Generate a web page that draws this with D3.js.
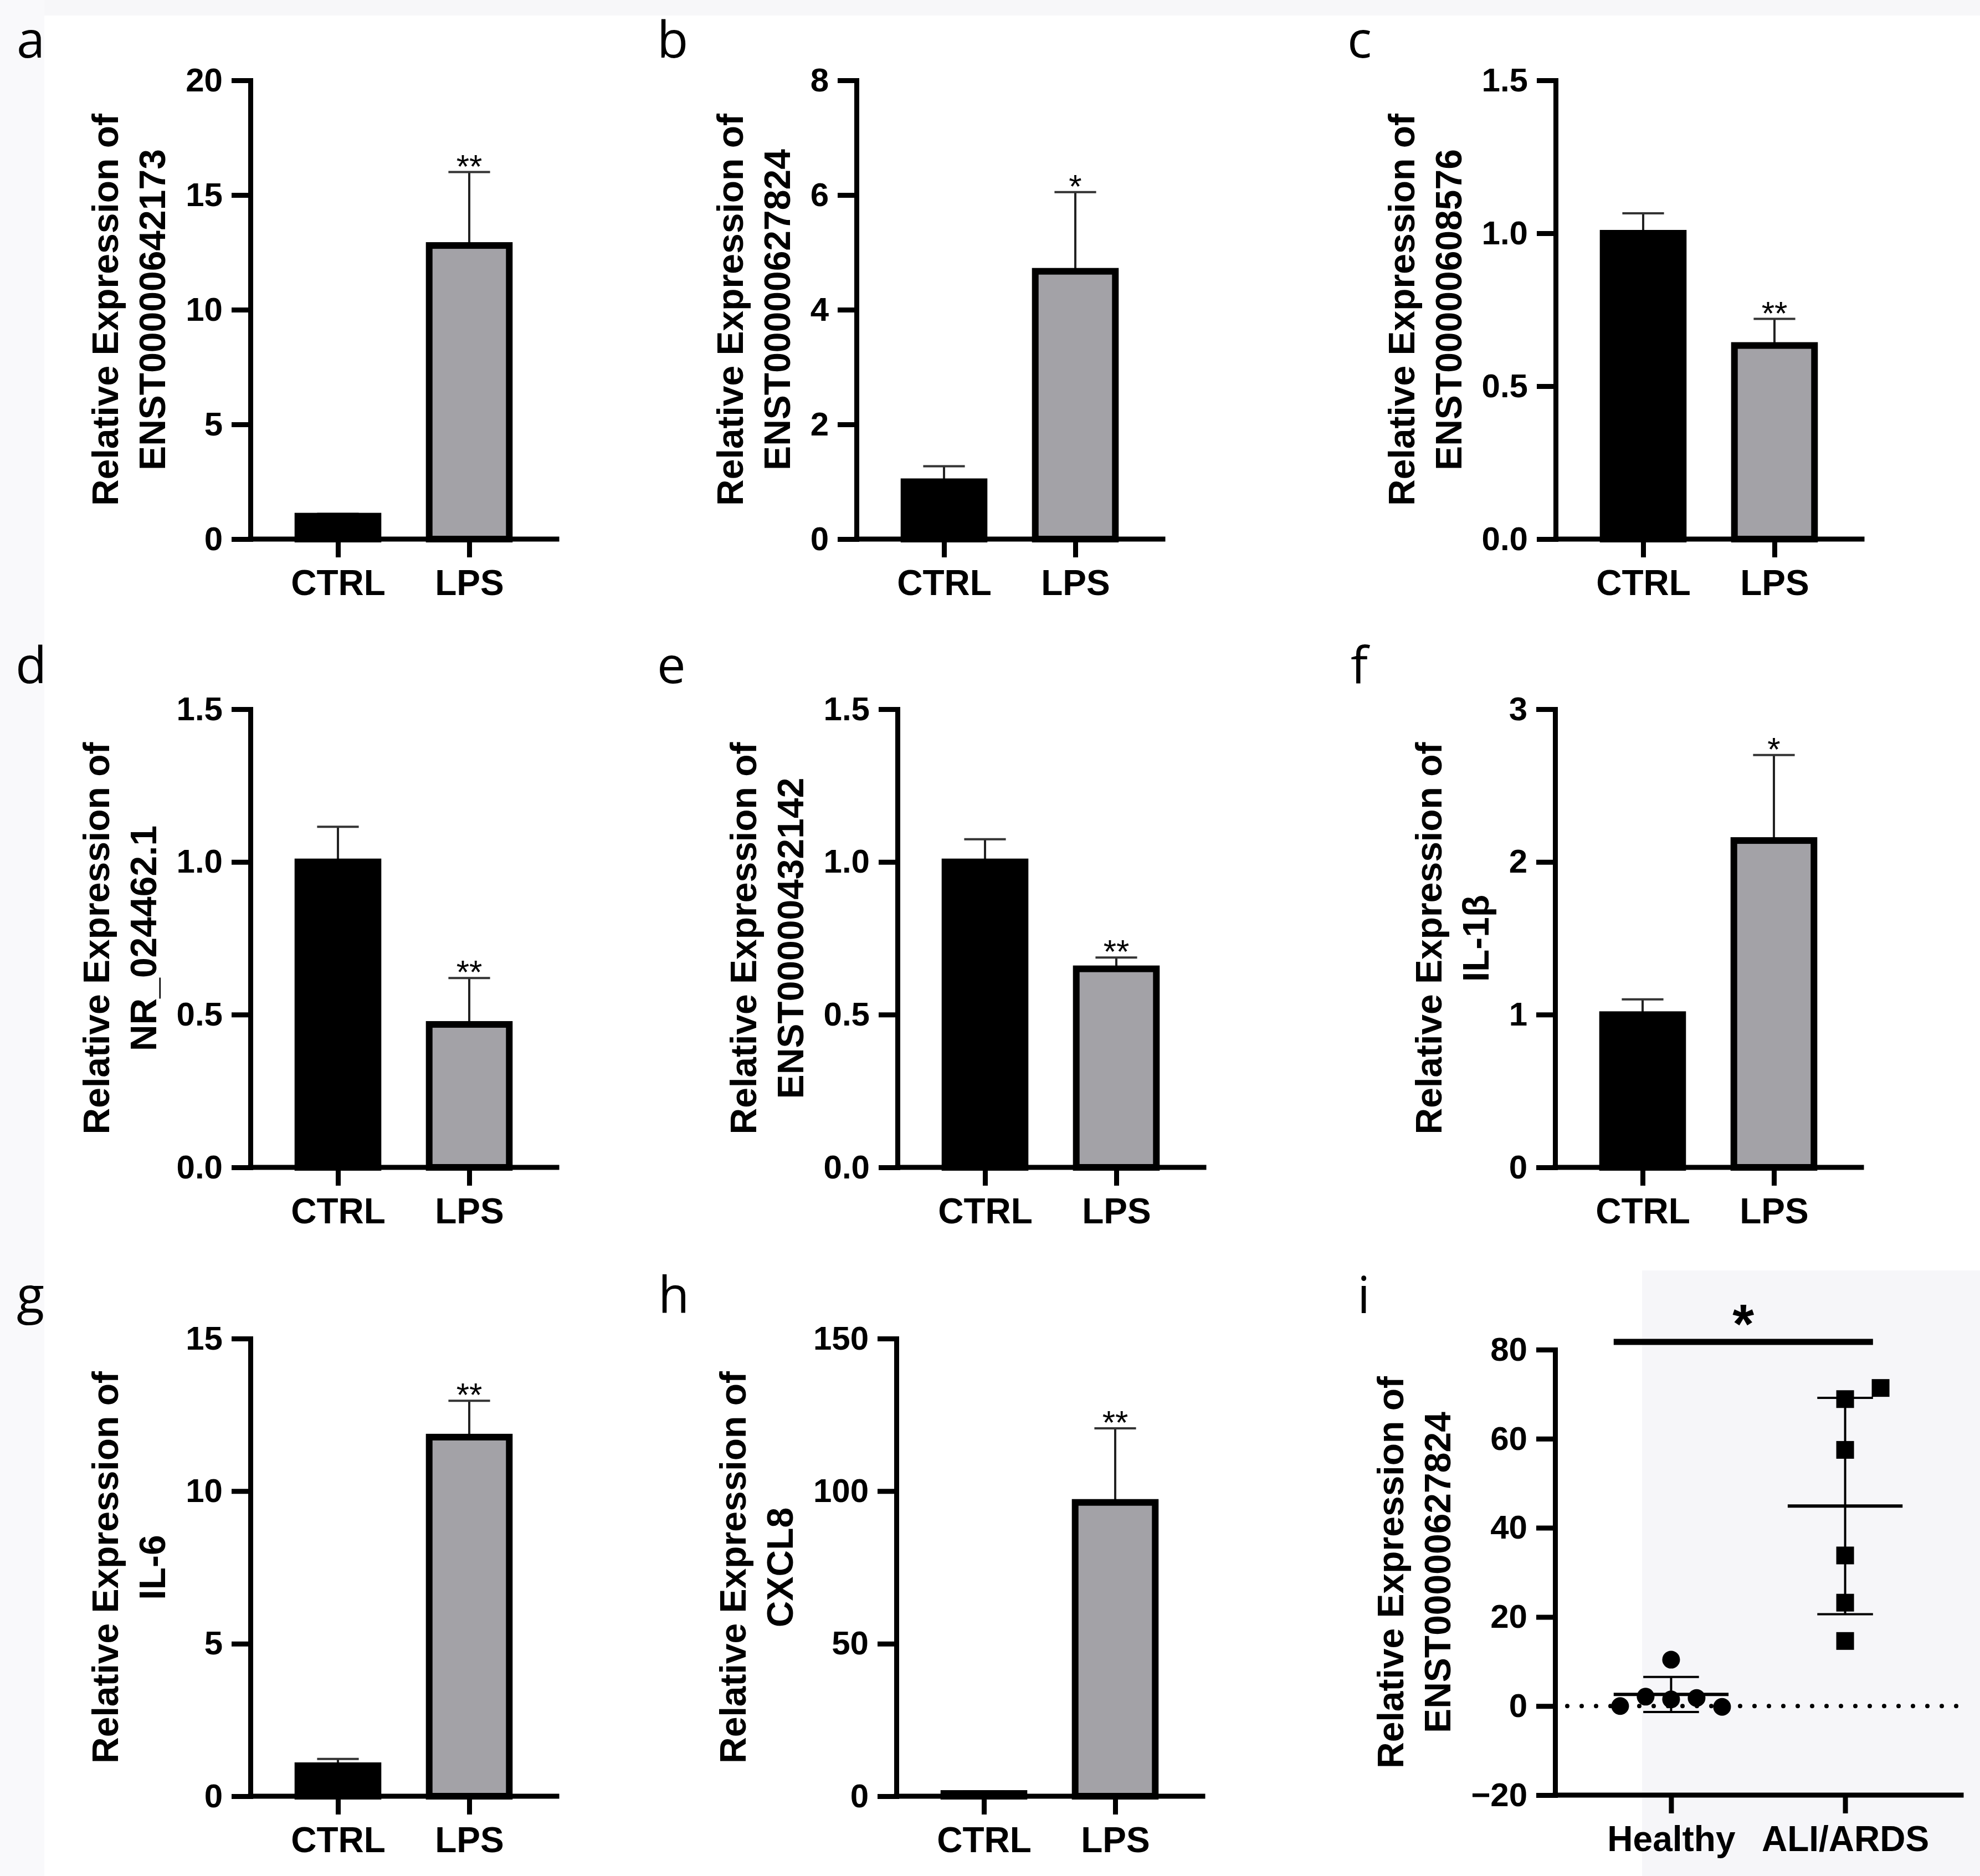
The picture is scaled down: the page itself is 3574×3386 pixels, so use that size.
<!DOCTYPE html>
<html>
<head>
<meta charset="utf-8">
<script src="https://cdn.jsdelivr.net/npm/d3@7"></script>
<style>
  html, body { margin: 0; padding: 0; background: #fff; }
  svg { display: block; }
</style>
</head>
<body>
<svg id="fig"></svg>
<script>
// ---- data ----
const groups = ["CTRL", "LPS"];
const panelLetters = ["a", "b", "c", "d", "e", "f", "g", "h"];
const geneNames = ["ENST00000642173", "ENST00000627824", "ENST00000608576", "NR_024462.1",
  "ENST00000432142", "IL-1β", "IL-6", "CXCL8"];
const ctrlMeans = [1.0, 1.0, 1.0, 1.0, 1.0, 1.0, 1.0, 0.9];
const ctrlErrors = [0.1, 0.27, 0.065, 0.115, 0.074, 0.1, 0.22, 0.6];
const lpsMeans = [12.8, 4.67, 0.633, 0.468, 0.65, 2.14, 11.77, 96.3];
const lpsErrors = [3.2, 1.38, 0.087, 0.152, 0.037, 0.56, 1.19, 24.3];
const yMaxes = [20, 8, 1.5, 1.5, 1.5, 3, 15, 150];
const yTickSteps = [5, 2, 0.5, 0.5, 0.5, 1, 5, 50];
const significance = ["**", "*", "**", "**", "**", "*", "**", "**"];

const scatterLetter = "i";
const scatterGroups = ["Healthy", "ALI/ARDS"];
const scatterGene = "ENST00000627824";
const healthyValues = [1.5, 1.8, 2.1, 10.4, -0.2, 0.0];
const ardsValues = [68.9, 71.4, 57.5, 33.8, 23.2, 14.6];
const scatterTicks = [-20, 0, 20, 40, 60, 80];
const scatterSignificance = "*";

// ---- layout ----
const W = 3574, H = 3386;
const FONT = "'Liberation Sans', Arial, Helvetica, sans-serif";
const LETTER_FONT = "'Open Sans', 'Noto Sans', sans-serif";
const axisW = 9, tickLen = 34;
const barPlotWidth = 553;
// axis x, top y, baseline y, letter x, letter y for each bar panel
const panelPos = [
  [452, 145, 973, 30, 104], [1546, 145, 973, 1186, 104], [2808, 145, 973, 2432, 104],
  [452, 1280, 2107, 28, 1233], [1620, 1280, 2107, 1186, 1233], [2807, 1280, 2107, 2438, 1233],
  [452, 2416, 3242, 30, 2370], [1618, 2416, 3242, 1188, 2370]
];

const svg = d3.select("#fig").attr("width", W).attr("height", H);
svg.append("rect").attr("width", W).attr("height", H).attr("fill", "#fff");
// faint grey paper regions of the scanned figure
svg.append("rect").attr("x", 0).attr("y", 0).attr("width", W).attr("height", 28).attr("fill", "#f7f7f9");
svg.append("rect").attr("x", 0).attr("y", 0).attr("width", 80).attr("height", H).attr("fill", "#f9f9fb");
svg.append("rect").attr("x", 2964).attr("y", 2293).attr("width", W - 2964).attr("height", H - 2293).attr("fill", "#f6f6f9");

function styleAxis(g, fontSize) {
  g.select(".domain").attr("stroke", "#000").attr("stroke-width", axisW).attr("stroke-linecap", "square");
  g.selectAll(".tick line").attr("stroke", "#000").attr("stroke-width", axisW);
  g.selectAll(".tick text")
    .attr("fill", "#000")
    .attr("font-family", FONT)
    .attr("font-weight", "bold")
    .attr("font-size", fontSize);
}

function addTitle(g, yAxisG, axisX, yTop, yBase, gene) {
  const bb = yAxisG.node().getBBox();
  const labelLeft = axisX + bb.x;
  const line2 = labelLeft - 37;
  const line1 = line2 - 85;
  const cy = (yTop + yBase) / 2;
  [["Relative Expression of", line1], [gene, line2]].forEach(([t, bx]) => {
    g.append("text")
      .attr("transform", `translate(${bx},${cy}) rotate(-90)`)
      .attr("text-anchor", "middle")
      .attr("font-family", FONT)
      .attr("font-weight", "bold")
      .attr("font-size", 66)
      .attr("fill", "#000")
      .text(t);
  });
}

function addLetter(letter, lx, ly) {
  svg.append("text")
    .attr("x", lx).attr("y", ly)
    .attr("font-family", LETTER_FONT)
    .attr("font-size", 92)
    .attr("fill", "#000")
    .text(letter);
}

// ---- bar panels a-h ----
panelLetters.forEach((letter, i) => {
  const [ax, yTop, yBase, lx, ly] = panelPos[i];
  const g = svg.append("g").attr("class", "panel-" + letter);

  const x = d3.scalePoint().domain(groups).range([ax, ax + barPlotWidth]).padding(2 / 3);
  const y = d3.scaleLinear().domain([0, yMaxes[i]]).range([yBase, yTop]);
  const step = x.step();
  const barW = step * 0.61;
  const capW = barW * 0.52;
  const fmt = yTickSteps[i] < 1 ? d3.format(".1f") : d3.format("d");
  const ticks = d3.range(0, yMaxes[i] + yTickSteps[i] / 2, yTickSteps[i]);

  const rows = groups.map((grp, j) => ({
    grp,
    mean: j === 0 ? ctrlMeans[i] : lpsMeans[i],
    err: j === 0 ? ctrlErrors[i] : lpsErrors[i],
    fill: j === 0 ? "#000" : "#a3a2a7",
    sig: j === 0 ? "" : significance[i]
  }));

  // error bars (upper only)
  g.selectAll(".err").data(rows).join("line")
    .attr("x1", d => x(d.grp)).attr("x2", d => x(d.grp))
    .attr("y1", d => y(d.mean)).attr("y2", d => y(d.mean + d.err))
    .attr("stroke", "#222").attr("stroke-width", 4);
  g.selectAll(".cap").data(rows).join("line")
    .attr("x1", d => x(d.grp) - capW / 2).attr("x2", d => x(d.grp) + capW / 2)
    .attr("y1", d => y(d.mean + d.err)).attr("y2", d => y(d.mean + d.err))
    .attr("stroke", "#333").attr("stroke-width", 4);

  // bars
  g.selectAll(".bar").data(rows).join("rect")
    .attr("x", d => x(d.grp) - barW / 2)
    .attr("y", d => y(d.mean))
    .attr("width", barW)
    .attr("height", d => yBase - y(d.mean))
    .attr("fill", d => d.fill)
    .attr("stroke", "#000")
    .attr("stroke-width", 12);

  // significance stars
  g.selectAll(".sig").data(rows.filter(d => d.sig)).join("text")
    .attr("x", d => x(d.grp))
    .attr("y", d => y(d.mean + d.err) + 10)
    .attr("text-anchor", "middle")
    .attr("font-family", FONT)
    .attr("font-size", 60)
    .attr("fill", "#000")
    .text(d => d.sig);

  // axes
  const yAxisG = g.append("g")
    .attr("transform", `translate(${ax},0)`)
    .call(d3.axisLeft(y).tickValues(ticks).tickFormat(fmt).tickSize(tickLen).tickSizeOuter(0).tickPadding(16));
  styleAxis(yAxisG, 60);

  const xAxisG = g.append("g")
    .attr("transform", `translate(0,${yBase})`)
    .call(d3.axisBottom(x).tickSize(33).tickSizeOuter(0).tickPadding(23));
  xAxisG.select(".domain").attr("d", `M${ax},0H${ax + barPlotWidth}`);
  styleAxis(xAxisG, 64);

  addTitle(g, yAxisG, ax, yTop, yBase, geneNames[i]);
  addLetter(letter, lx, ly);
});

// ---- scatter panel i ----
(function () {
  const ax = 2807, yTop = 2436, yBase = 3240, plotW = 733;
  const g = svg.append("g").attr("class", "panel-i");
  const x = d3.scalePoint().domain(scatterGroups).range([ax, ax + plotW]).padding(2 / 3);
  const y = d3.scaleLinear().domain([d3.min(scatterTicks), d3.max(scatterTicks)]).range([yBase, yTop]);
  const step = x.step();
  const markR = 16;
  const slotStep = 46;

  // zero reference line
  g.append("line")
    .attr("x1", ax + 22).attr("x2", ax + plotW)
    .attr("y1", y(0)).attr("y2", y(0))
    .attr("stroke", "#000").attr("stroke-width", 8)
    .attr("stroke-linecap", "round")
    .attr("stroke-dasharray", "0 26");

  const sets = [healthyValues, ardsValues];

  // simple dodge: push colliding points to side slots 0, +1, -1, +2, -2 ...
  function dodge(values) {
    const placed = [];
    const order = [0, 1, -1, 2, -2, 3, -3];
    return values.map(v => {
      const py = y(v);
      let slot = 0;
      for (const s of order) {
        if (!placed.some(p => p.slot === s && Math.abs(p.py - py) < markR * 2)) { slot = s; break; }
      }
      placed.push({ slot, py });
      return { v, slot };
    });
  }

  sets.forEach((vals, j) => {
    const cx = x(scatterGroups[j]);
    const mean = d3.mean(vals);
    const sd = d3.deviation(vals);
    const meanHalf = step * 0.33;
    const capHalf = step * 0.16;

    g.append("line")
      .attr("x1", cx).attr("x2", cx).attr("y1", y(mean - sd)).attr("y2", y(mean + sd))
      .attr("stroke", "#000").attr("stroke-width", 4);
    [mean - sd, mean + sd].forEach(v => {
      g.append("line")
        .attr("x1", cx - capHalf).attr("x2", cx + capHalf).attr("y1", y(v)).attr("y2", y(v))
        .attr("stroke", "#000").attr("stroke-width", 4);
    });
    g.append("line")
      .attr("x1", cx - meanHalf).attr("x2", cx + meanHalf).attr("y1", y(mean)).attr("y2", y(mean))
      .attr("stroke", "#000").attr("stroke-width", 6);

    const pts = dodge(vals);
    if (j === 0) {
      g.selectAll(".pt-h").data(pts).join("circle")
        .attr("cx", d => cx + d.slot * slotStep).attr("cy", d => y(d.v))
        .attr("r", markR).attr("fill", "#000");
    } else {
      g.selectAll(".pt-a").data(pts).join("rect")
        .attr("x", d => cx + d.slot * (slotStep + 18) - markR).attr("y", d => y(d.v) - markR)
        .attr("width", markR * 2).attr("height", markR * 2).attr("fill", "#000");
    }
  });

  // significance bar
  const sigY = yTop - 14;
  const sx1 = x(scatterGroups[0]) - step * 0.33;
  const sx2 = x(scatterGroups[1]) + step * 0.16;
  g.append("line")
    .attr("x1", sx1).attr("x2", sx2).attr("y1", sigY).attr("y2", sigY)
    .attr("stroke", "#000").attr("stroke-width", 11);
  g.append("text")
    .attr("x", (sx1 + sx2) / 2).attr("y", sigY + 2)
    .attr("text-anchor", "middle")
    .attr("font-family", FONT).attr("font-weight", "bold").attr("font-size", 100)
    .text(scatterSignificance);

  const yAxisG = g.append("g")
    .attr("transform", `translate(${ax},0)`)
    .call(d3.axisLeft(y).tickValues(scatterTicks).tickFormat(d3.format("d")).tickSize(tickLen).tickSizeOuter(0).tickPadding(16));
  styleAxis(yAxisG, 60);

  const xAxisG = g.append("g")
    .attr("transform", `translate(0,${yBase})`)
    .call(d3.axisBottom(x).tickSize(33).tickSizeOuter(0).tickPadding(23));
  xAxisG.select(".domain").attr("d", `M${ax},0H${ax + plotW}`);
  styleAxis(xAxisG, 64);

  addTitle(g, yAxisG, ax, yTop, yBase, scatterGene);
  addLetter(scatterLetter, 2450, 2370);
})();
</script>
</body>
</html>
